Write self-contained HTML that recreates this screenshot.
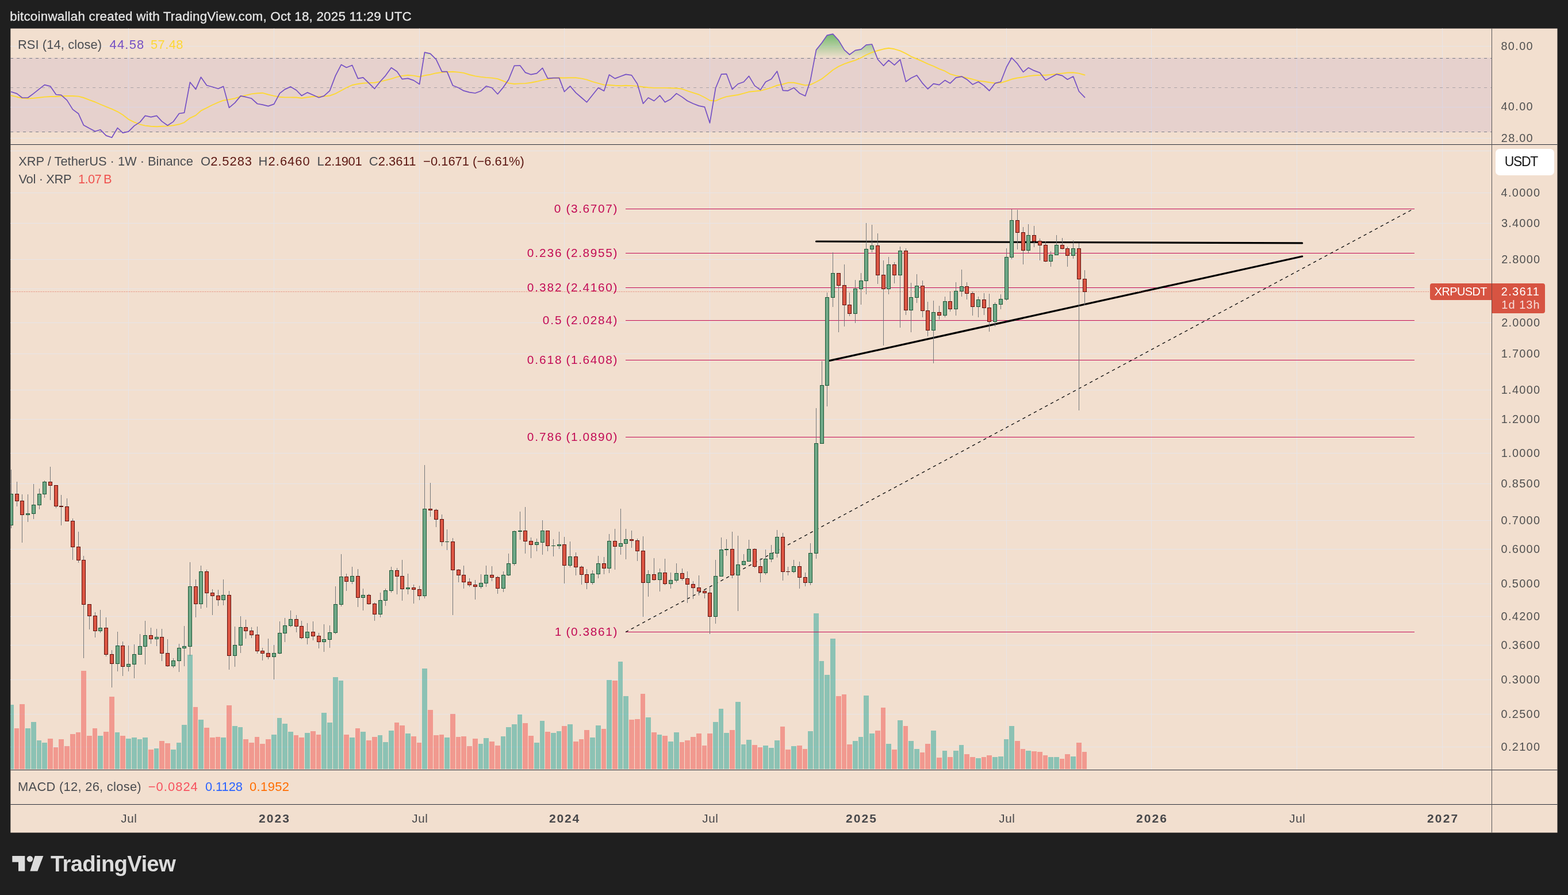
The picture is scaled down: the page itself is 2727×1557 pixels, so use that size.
<!DOCTYPE html>
<html lang="en"><head><meta charset="utf-8"><title>XRP / TetherUS 1W chart</title>
<style>
html,body{margin:0;padding:0;background:#1f1f1f;}
body{width:2727px;height:1557px;overflow:hidden;}
svg{display:block;font-family:"Liberation Sans", sans-serif;}
text{white-space:pre;}
</style></head><body>
<svg xmlns="http://www.w3.org/2000/svg" width="2727" height="1557" viewBox="0 0 2727 1557">
<rect x="0" y="0" width="2727" height="1557" fill="#1f1f1f"/>
<rect x="18.3" y="49.6" width="2690.2" height="1398.95" fill="#f2dfcf"/>
<defs><linearGradient id="ob" gradientUnits="userSpaceOnUse" x1="0" y1="46.5" x2="0" y2="101.5"><stop offset="0" stop-color="#4caf50" stop-opacity="1"/><stop offset="1" stop-color="#4caf50" stop-opacity="0"/></linearGradient><clipPath id="obclip"><rect x="18.3" y="49.6" width="2575.7" height="51.4"/></clipPath><clipPath id="plot"><rect x="18.3" y="49.6" width="2575.7" height="1289.4"/></clipPath></defs>
<path d="M223.5 49.6V1339M476.5 49.6V1339M729.5 49.6V1339M981.5 49.6V1339M1234.5 49.6V1339M1497.5 49.6V1339M1750.5 49.6V1339M2002.5 49.6V1339M2255.5 49.6V1339M2508.5 49.6V1339M18.3 80.5H2594M18.3 186.5H2594M18.3 240.5H2594M18.3 262.5H2594M18.3 335.5H2594M18.3 388.5H2594M18.3 451.5H2594M18.3 502.5H2594M18.3 561.5H2594M18.3 615.5H2594M18.3 678.5H2594M18.3 729.5H2594M18.3 788.5H2594M18.3 841.5H2594M18.3 905.5H2594M18.3 955.5H2594M18.3 1015.5H2594M18.3 1072.5H2594M18.3 1122.5H2594M18.3 1182.5H2594M18.3 1242.5H2594M18.3 1299.5H2594" stroke="#e7e5e8" stroke-width="1" fill="none"/>
<rect x="18.3" y="100.6" width="2575.7" height="129.2" fill="#7e57c2" fill-opacity="0.1"/>
<path d="M18.3 101.5H2594M18.3 229.5H2594" stroke="#787b86" stroke-width="1" stroke-dasharray="5 6" stroke-dashoffset="0.2" fill="none"/>
<path d="M18.3 152.5H2594" stroke="#787b86" stroke-opacity="0.55" stroke-width="1" stroke-dasharray="5 6" stroke-dashoffset="0.2" fill="none"/>
<polygon points="19.5,101.5 19.5,159.8 29.5,162.9 38.5,170 48.5,170 58.5,162.6 68.5,154.6 77.5,147.6 87.5,150.1 97.5,164.5 106.5,165.3 116.5,174.4 126.5,190.4 136.5,197.8 145.5,217.8 155.5,223.3 165.5,228.5 174.5,225.7 184.5,235.9 194.5,239.3 204.5,222.5 213.5,231.2 223.5,228.8 233.5,218.9 243.5,212.4 252.5,201.4 262.5,203.7 272.5,201.4 281.5,211.1 291.5,218.2 301.5,211.6 311.5,197.5 320.5,196.2 330.5,143 340.5,155.4 349.5,134.2 359.5,148.5 369.5,151.2 379.5,154.3 388.5,150.4 398.5,187.3 408.5,178.9 418.5,166.9 427.5,168.7 437.5,171.3 447.5,180.5 456.5,182.1 466.5,184.6 476.5,181.1 486.5,162.3 495.5,155.4 505.5,150.9 515.5,157 524.5,166.4 534.5,160.9 544.5,165.3 554.5,169.7 563.5,166.9 573.5,157.9 583.5,131.6 593.5,112.4 602.5,117.5 612.5,113.5 622.5,136.7 631.5,134.9 641.5,144.7 651.5,154.3 661.5,141.5 670.5,131.6 680.5,117.8 690.5,124.5 699.5,137.7 709.5,136.4 719.5,139.9 729.5,146.5 738.5,91.1 748.5,93.3 758.5,103.3 768.5,124.7 777.5,124.7 787.5,148.8 797.5,152.7 806.5,157.9 816.5,160.6 826.5,162 836.5,158.2 845.5,149.9 855.5,152.7 865.5,163.7 875.5,151.6 884.5,138.6 894.5,114.3 904.5,114 913.5,126.1 923.5,129.7 933.5,127.6 943.5,118.4 952.5,136.3 962.5,135.6 972.5,135.6 981.5,159.5 991.5,149.8 1001.5,161.4 1011.5,170 1020.5,177.8 1030.5,165.3 1040.5,152.7 1050.5,158.2 1059.5,130 1069.5,136.6 1079.5,132.8 1088.5,129.4 1098.5,130.9 1108.5,146 1118.5,180.2 1127.5,170 1137.5,175.5 1147.5,166.1 1156.5,177.8 1166.5,172.4 1176.5,162.6 1186.5,168.9 1195.5,175.5 1205.5,180.2 1215.5,184.1 1225.5,186.2 1234.5,213.9 1244.5,153.5 1254.5,129.2 1263.5,128.7 1273.5,155.4 1283.5,146 1293.5,142.5 1302.5,132.4 1312.5,149.1 1322.5,156.4 1331.5,142.5 1341.5,137.5 1351.5,124 1361.5,157.3 1370.5,157.8 1380.5,152.7 1390.5,162.2 1400.5,166.9 1409.5,139.4 1419.5,86.9 1429.5,74.3 1438.5,61.3 1448.5,59.1 1458.5,70.1 1468.5,86.9 1477.5,95 1487.5,87.6 1497.5,85.8 1506.5,78.2 1516.5,77 1526.5,103.3 1536.5,114.3 1545.5,104.9 1555.5,113.2 1565.5,103.6 1575.5,142.1 1584.5,135.8 1594.5,130.9 1604.5,144.9 1613.5,154.8 1623.5,145.7 1633.5,147.6 1643.5,139.7 1652.5,144.9 1662.5,135.2 1672.5,133.1 1681.5,138.2 1691.5,146.9 1701.5,142.2 1711.5,149.1 1720.5,157.9 1730.5,144.9 1740.5,142.2 1750.5,116.7 1759.5,100.5 1769.5,110.9 1779.5,125.3 1788.5,117.8 1798.5,122.9 1808.5,126.5 1818.5,139.4 1827.5,134.7 1837.5,129.2 1847.5,131.6 1856.5,138.2 1866.5,133.1 1876.5,159 1886.5,169.3 1886.5,101.5" fill="url(#ob)" clip-path="url(#obclip)"/>
<g clip-path="url(#plot)" fill="none" stroke-linejoin="round" stroke-linecap="round"><polyline points="19.5,166.1 29.5,168.7 38.5,170.8 48.5,171.6 58.5,170.8 68.5,169.7 77.5,168.6 87.5,168 97.5,168 106.5,167.3 116.5,167 126.5,167 136.5,167.6 145.5,170 155.5,173.9 165.5,177.5 174.5,181.5 184.5,185.7 194.5,189.6 204.5,194.3 213.5,199.8 223.5,207.6 233.5,212.7 243.5,216.3 252.5,218.6 262.5,219.7 272.5,220.2 281.5,219.7 291.5,219.4 301.5,218.2 311.5,216.3 320.5,213.1 330.5,205.3 340.5,200.6 349.5,192.7 359.5,187.7 369.5,182.5 379.5,178.2 388.5,174.7 398.5,173.1 408.5,171.2 418.5,168 427.5,165.8 437.5,163.4 447.5,162.3 456.5,161.7 466.5,164.5 476.5,166.9 486.5,168.7 495.5,169.4 505.5,169.4 515.5,169.5 524.5,170.8 534.5,169.2 544.5,168 554.5,167.6 563.5,167.6 573.5,166.5 583.5,162.9 593.5,157.5 602.5,152.7 612.5,148 622.5,146 631.5,144.7 641.5,144.1 651.5,143.8 661.5,141.9 670.5,139.7 680.5,137.1 690.5,133.9 699.5,131.9 709.5,130.8 719.5,131.6 729.5,133.5 738.5,131.3 748.5,129.7 758.5,127.2 768.5,125.9 777.5,125.1 787.5,124.8 797.5,125.6 806.5,126.9 816.5,130 826.5,132.4 836.5,133.9 845.5,134.9 855.5,135.6 865.5,137.1 875.5,141 884.5,144.6 894.5,146 904.5,145.4 913.5,145.1 923.5,143.8 933.5,141.8 943.5,139.4 952.5,137.8 962.5,136 972.5,135.2 981.5,135.5 991.5,135.2 1001.5,135.2 1011.5,136.6 1020.5,138.6 1030.5,142.2 1040.5,144.9 1050.5,147.6 1059.5,148 1069.5,148.8 1079.5,149.3 1088.5,148.8 1098.5,149.1 1108.5,149.9 1118.5,151.3 1127.5,152.3 1137.5,152.9 1147.5,152.9 1156.5,152.9 1166.5,153.2 1176.5,153.5 1186.5,154.8 1195.5,158.2 1205.5,161.4 1215.5,164.5 1225.5,169.5 1234.5,174.7 1244.5,175.5 1254.5,171.1 1263.5,168.1 1273.5,166.5 1283.5,165 1293.5,162.3 1302.5,159.8 1312.5,158.7 1322.5,157.8 1331.5,155.4 1341.5,152.3 1351.5,148.5 1361.5,146.5 1370.5,143.8 1380.5,143.8 1390.5,146 1400.5,148.4 1409.5,147.3 1419.5,142.5 1429.5,137.1 1438.5,130 1448.5,121.8 1458.5,115.6 1468.5,111.2 1477.5,108 1487.5,104.9 1497.5,100.5 1506.5,95.5 1516.5,91.1 1526.5,88 1536.5,85.3 1545.5,83.7 1555.5,85.3 1565.5,88.3 1575.5,93.1 1584.5,98.3 1594.5,102.5 1604.5,106.8 1613.5,111.2 1623.5,115.1 1633.5,119.8 1643.5,123.7 1652.5,128.9 1662.5,131.6 1672.5,133.1 1681.5,135.5 1691.5,137.8 1701.5,140.7 1711.5,141.8 1720.5,143.3 1730.5,144.6 1740.5,144.1 1750.5,141 1759.5,137.8 1769.5,135.5 1779.5,134.2 1788.5,132.4 1798.5,131.3 1808.5,130.8 1818.5,130.8 1827.5,130 1837.5,128.7 1847.5,127.6 1856.5,126.5 1866.5,126.2 1876.5,127.6 1886.5,130.5" stroke="#fdd835" stroke-width="1.9"/><polyline points="19.5,159.8 29.5,162.9 38.5,170 48.5,170 58.5,162.6 68.5,154.6 77.5,147.6 87.5,150.1 97.5,164.5 106.5,165.3 116.5,174.4 126.5,190.4 136.5,197.8 145.5,217.8 155.5,223.3 165.5,228.5 174.5,225.7 184.5,235.9 194.5,239.3 204.5,222.5 213.5,231.2 223.5,228.8 233.5,218.9 243.5,212.4 252.5,201.4 262.5,203.7 272.5,201.4 281.5,211.1 291.5,218.2 301.5,211.6 311.5,197.5 320.5,196.2 330.5,143 340.5,155.4 349.5,134.2 359.5,148.5 369.5,151.2 379.5,154.3 388.5,150.4 398.5,187.3 408.5,178.9 418.5,166.9 427.5,168.7 437.5,171.3 447.5,180.5 456.5,182.1 466.5,184.6 476.5,181.1 486.5,162.3 495.5,155.4 505.5,150.9 515.5,157 524.5,166.4 534.5,160.9 544.5,165.3 554.5,169.7 563.5,166.9 573.5,157.9 583.5,131.6 593.5,112.4 602.5,117.5 612.5,113.5 622.5,136.7 631.5,134.9 641.5,144.7 651.5,154.3 661.5,141.5 670.5,131.6 680.5,117.8 690.5,124.5 699.5,137.7 709.5,136.4 719.5,139.9 729.5,146.5 738.5,91.1 748.5,93.3 758.5,103.3 768.5,124.7 777.5,124.7 787.5,148.8 797.5,152.7 806.5,157.9 816.5,160.6 826.5,162 836.5,158.2 845.5,149.9 855.5,152.7 865.5,163.7 875.5,151.6 884.5,138.6 894.5,114.3 904.5,114 913.5,126.1 923.5,129.7 933.5,127.6 943.5,118.4 952.5,136.3 962.5,135.6 972.5,135.6 981.5,159.5 991.5,149.8 1001.5,161.4 1011.5,170 1020.5,177.8 1030.5,165.3 1040.5,152.7 1050.5,158.2 1059.5,130 1069.5,136.6 1079.5,132.8 1088.5,129.4 1098.5,130.9 1108.5,146 1118.5,180.2 1127.5,170 1137.5,175.5 1147.5,166.1 1156.5,177.8 1166.5,172.4 1176.5,162.6 1186.5,168.9 1195.5,175.5 1205.5,180.2 1215.5,184.1 1225.5,186.2 1234.5,213.9 1244.5,153.5 1254.5,129.2 1263.5,128.7 1273.5,155.4 1283.5,146 1293.5,142.5 1302.5,132.4 1312.5,149.1 1322.5,156.4 1331.5,142.5 1341.5,137.5 1351.5,124 1361.5,157.3 1370.5,157.8 1380.5,152.7 1390.5,162.2 1400.5,166.9 1409.5,139.4 1419.5,86.9 1429.5,74.3 1438.5,61.3 1448.5,59.1 1458.5,70.1 1468.5,86.9 1477.5,95 1487.5,87.6 1497.5,85.8 1506.5,78.2 1516.5,77 1526.5,103.3 1536.5,114.3 1545.5,104.9 1555.5,113.2 1565.5,103.6 1575.5,142.1 1584.5,135.8 1594.5,130.9 1604.5,144.9 1613.5,154.8 1623.5,145.7 1633.5,147.6 1643.5,139.7 1652.5,144.9 1662.5,135.2 1672.5,133.1 1681.5,138.2 1691.5,146.9 1701.5,142.2 1711.5,149.1 1720.5,157.9 1730.5,144.9 1740.5,142.2 1750.5,116.7 1759.5,100.5 1769.5,110.9 1779.5,125.3 1788.5,117.8 1798.5,122.9 1808.5,126.5 1818.5,139.4 1827.5,134.7 1837.5,129.2 1847.5,131.6 1856.5,138.2 1866.5,133.1 1876.5,159 1886.5,169.3" stroke="#7450c4" stroke-width="1.7"/></g>
<path d="M18.3 1226H24V1338H18.3ZM44 1267H53V1338H44ZM54 1256H63V1338H54ZM64 1288H72V1338H64ZM73 1292H82V1338H73ZM170 1280H179V1338H170ZM200 1274H208V1338H200ZM219 1285H228V1338H219ZM229 1283H238V1338H229ZM239 1286H247V1338H239ZM248 1283H257V1338H248ZM268 1302H276V1338H268ZM297 1304H306V1338H297ZM307 1292H315V1338H307ZM316 1261H325V1338H316ZM326 1139H335V1338H326ZM345 1252H354V1338H345ZM384 1283H393V1338H384ZM404 1263H413V1338H404ZM414 1265H422V1338H414ZM472 1278H481V1338H472ZM482 1249H490V1338H482ZM491 1259H500V1338H491ZM501 1273H510V1338H501ZM530 1275H539V1338H530ZM559 1240H568V1338H559ZM569 1257H578V1338H569ZM579 1178H588V1338H579ZM589 1184H597V1338H589ZM608 1283H617V1338H608ZM627 1273H636V1338H627ZM657 1279H665V1338H657ZM666 1291H675V1338H666ZM676 1271H685V1338H676ZM705 1276H714V1338H705ZM734 1163H743V1338H734ZM773 1283H782V1338H773ZM832 1294H840V1338H832ZM841 1284H850V1338H841ZM871 1281H879V1338H871ZM880 1265H889V1338H880ZM890 1260H899V1338H890ZM900 1243H908V1338H900ZM929 1292H938V1338H929ZM939 1254H947V1338H939ZM958 1275H967V1338H958ZM968 1272H976V1338H968ZM987 1260H996V1338H987ZM1026 1283H1035V1338H1026ZM1036 1262H1045V1338H1036ZM1055 1183H1064V1338H1055ZM1075 1151H1083V1338H1075ZM1084 1211H1093V1338H1084ZM1123 1248H1132V1338H1123ZM1143 1278H1151V1338H1143ZM1162 1290H1171V1338H1162ZM1172 1274H1181V1338H1172ZM1240 1256H1249V1338H1240ZM1250 1233H1258V1338H1250ZM1259 1275H1268V1338H1259ZM1279 1221H1288V1338H1279ZM1289 1295H1297V1338H1289ZM1298 1287H1307V1338H1298ZM1327 1297H1336V1338H1327ZM1337 1301H1346V1338H1337ZM1347 1288H1356V1338H1347ZM1376 1298H1385V1338H1376ZM1405 1272H1414V1338H1405ZM1415 1067H1424V1338H1415ZM1425 1150H1433V1338H1425ZM1434 1174H1443V1338H1434ZM1444 1111H1453V1338H1444ZM1483 1289H1492V1338H1483ZM1493 1282H1501V1338H1493ZM1502 1210H1511V1338H1502ZM1512 1276H1521V1338H1512ZM1541 1294H1550V1338H1541ZM1561 1253H1570V1338H1561ZM1580 1289H1589V1338H1580ZM1590 1303H1599V1338H1590ZM1619 1271H1628V1338H1619ZM1639 1306H1647V1338H1639ZM1658 1306H1667V1338H1658ZM1668 1296H1676V1338H1668ZM1697 1319H1706V1338H1697ZM1726 1317H1735V1338H1726ZM1736 1316H1745V1338H1736ZM1746 1286H1754V1338H1746ZM1755 1263H1764V1338H1755ZM1784 1306H1793V1338H1784ZM1823 1317H1832V1338H1823ZM1833 1317H1842V1338H1833ZM1862 1316H1871V1338H1862Z" fill="#26a69a" fill-opacity="0.5"/>
<path d="M25 1267H33V1338H25ZM34 1225H43V1338H34ZM83 1285H92V1338H83ZM93 1300H101V1338H93ZM102 1286H111V1338H102ZM112 1298H121V1338H112ZM122 1277H131V1338H122ZM132 1274H140V1338H132ZM141 1167H150V1338H141ZM151 1280H160V1338H151ZM161 1267H169V1338H161ZM180 1273H189V1338H180ZM190 1212H199V1338H190ZM209 1280H218V1338H209ZM258 1304H267V1338H258ZM277 1289H286V1338H277ZM287 1293H296V1338H287ZM336 1230H344V1338H336ZM355 1266H364V1338H355ZM365 1283H374V1338H365ZM375 1282H383V1338H375ZM394 1227H403V1338H394ZM423 1286H432V1338H423ZM433 1292H442V1338H433ZM443 1282H451V1338H443ZM452 1294H461V1338H452ZM462 1286H471V1338H462ZM511 1279H519V1338H511ZM520 1283H529V1338H520ZM540 1272H549V1338H540ZM550 1278H558V1338H550ZM598 1278H607V1338H598ZM618 1267H626V1338H618ZM637 1288H646V1338H637ZM647 1282H656V1338H647ZM686 1257H694V1338H686ZM695 1262H704V1338H695ZM715 1281H724V1338H715ZM725 1292H733V1338H725ZM744 1235H753V1338H744ZM754 1279H763V1338H754ZM764 1278H772V1338H764ZM783 1242H792V1338H783ZM793 1282H801V1338H793ZM802 1281H811V1338H802ZM812 1298H821V1338H812ZM822 1285H831V1338H822ZM851 1290H860V1338H851ZM861 1297H870V1338H861ZM909 1258H918V1338H909ZM919 1280H928V1338H919ZM948 1273H957V1338H948ZM977 1263H986V1338H977ZM997 1290H1006V1338H997ZM1007 1286H1015V1338H1007ZM1016 1270H1025V1338H1016ZM1046 1268H1054V1338H1046ZM1065 1184H1074V1338H1065ZM1094 1252H1103V1338H1094ZM1104 1251H1113V1338H1104ZM1114 1207H1122V1338H1114ZM1133 1274H1142V1338H1133ZM1152 1280H1161V1338H1152ZM1182 1291H1190V1338H1182ZM1191 1288H1200V1338H1191ZM1201 1282H1210V1338H1201ZM1211 1276H1220V1338H1211ZM1221 1297H1229V1338H1221ZM1230 1276H1239V1338H1230ZM1269 1270H1278V1338H1269ZM1308 1296H1317V1338H1308ZM1318 1300H1326V1338H1318ZM1357 1264H1365V1338H1357ZM1366 1304H1375V1338H1366ZM1386 1297H1395V1338H1386ZM1396 1303H1404V1338H1396ZM1454 1211H1463V1338H1454ZM1464 1208H1472V1338H1464ZM1473 1295H1482V1338H1473ZM1522 1271H1531V1338H1522ZM1532 1231H1540V1338H1532ZM1551 1304H1560V1338H1551ZM1571 1263H1579V1338H1571ZM1600 1309H1608V1338H1600ZM1609 1294H1618V1338H1609ZM1629 1318H1638V1338H1629ZM1648 1317H1657V1338H1648ZM1677 1312H1686V1338H1677ZM1687 1317H1696V1338H1687ZM1707 1317H1715V1338H1707ZM1716 1314H1725V1338H1716ZM1765 1289H1774V1338H1765ZM1775 1303H1783V1338H1775ZM1794 1307H1803V1338H1794ZM1804 1308H1813V1338H1804ZM1814 1314H1822V1338H1814ZM1843 1320H1851V1338H1843ZM1852 1312H1861V1338H1852ZM1872 1292H1881V1338H1872ZM1882 1308H1890V1338H1882Z" fill="#ef5350" fill-opacity="0.5"/>
<path d="M1088 363.5H2460M1088 440.5H2460M1088 500.5H2460M1088 557.5H2460M1088 626.5H2460M1088 760.5H2460M1088 1099.5H2460" stroke="#c20a55" stroke-width="1" fill="none"/>
<path d="M1088 1099.6L2459.3 362.8" stroke="#141414" stroke-width="1.4" stroke-dasharray="5.4 5.64" fill="none"/>
<path d="M1419.5 420L2264.7 422.9M1443 627.4L2264.7 446" stroke="#000" stroke-width="3.2" stroke-linecap="round" fill="none"/>
<path d="M18 507.5H2487" stroke="#dc5544" stroke-width="1" stroke-dasharray="1 2" fill="none"/>
<g clip-path="url(#plot)"><path d="M19 817h1V919h-1ZM29 838h1V881h-1ZM38 860h1V944h-1ZM48 860h1V908h-1ZM58 842h1V903h-1ZM68 850h1V886h-1ZM77 836h1V866h-1ZM87 812h1V870h-1ZM97 844h1V884h-1ZM106 861h1V914h-1ZM116 867h1V907h-1ZM126 902h1V974h-1ZM136 925h1V979h-1ZM145 967h1V1145h-1ZM155 1051h1V1095h-1ZM165 1065h1V1109h-1ZM174 1061h1V1101h-1ZM184 1074h1V1142h-1ZM194 1131h1V1196h-1ZM204 1099h1V1168h-1ZM213 1116h1V1176h-1ZM223 1123h1V1168h-1ZM233 1121h1V1180h-1ZM243 1103h1V1139h-1ZM252 1080h1V1156h-1ZM262 1092h1V1120h-1ZM272 1094h1V1124h-1ZM281 1094h1V1150h-1ZM291 1112h1V1160h-1ZM301 1145h1V1162h-1ZM311 1120h1V1169h-1ZM320 1089h1V1159h-1ZM330 978h1V1141h-1ZM340 1008h1V1074h-1ZM349 984h1V1059h-1ZM359 991h1V1057h-1ZM369 1025h1V1070h-1ZM379 1026h1V1054h-1ZM388 1008h1V1053h-1ZM398 1028h1V1165h-1ZM408 1090h1V1160h-1ZM418 1072h1V1136h-1ZM427 1078h1V1111h-1ZM437 1091h1V1110h-1ZM447 1090h1V1137h-1ZM456 1127h1V1149h-1ZM466 1111h1V1147h-1ZM476 1122h1V1182h-1ZM486 1081h1V1138h-1ZM495 1075h1V1117h-1ZM505 1062h1V1091h-1ZM515 1070h1V1100h-1ZM524 1080h1V1112h-1ZM534 1084h1V1121h-1ZM544 1081h1V1114h-1ZM554 1101h1V1128h-1ZM563 1086h1V1134h-1ZM573 1088h1V1127h-1ZM583 1020h1V1103h-1ZM593 964h1V1055h-1ZM602 998h1V1028h-1ZM612 986h1V1016h-1ZM622 990h1V1056h-1ZM631 1024h1V1062h-1ZM641 1033h1V1052h-1ZM651 1048h1V1080h-1ZM661 1031h1V1074h-1ZM670 1024h1V1054h-1ZM680 986h1V1031h-1ZM690 988h1V1034h-1ZM699 974h1V1045h-1ZM709 998h1V1034h-1ZM719 1017h1V1050h-1ZM729 1019h1V1044h-1ZM738 809h1V1041h-1ZM748 840h1V899h-1ZM758 885h1V917h-1ZM768 895h1V950h-1ZM777 921h1V957h-1ZM787 936h1V1070h-1ZM797 990h1V1013h-1ZM806 984h1V1024h-1ZM816 1006h1V1021h-1ZM826 1009h1V1043h-1ZM836 999h1V1024h-1ZM845 984h1V1021h-1ZM855 985h1V1011h-1ZM865 1002h1V1033h-1ZM875 994h1V1030h-1ZM884 963h1V1002h-1ZM894 923h1V984h-1ZM904 890h1V939h-1ZM913 882h1V963h-1ZM923 935h1V971h-1ZM933 937h1V959h-1ZM943 905h1V965h-1ZM952 923h1V959h-1ZM962 938h1V968h-1ZM972 925h1V955h-1ZM981 934h1V1015h-1ZM991 942h1V987h-1ZM1001 961h1V1001h-1ZM1011 984h1V1017h-1ZM1020 990h1V1025h-1ZM1030 992h1V1017h-1ZM1040 967h1V1006h-1ZM1050 969h1V999h-1ZM1059 929h1V997h-1ZM1069 920h1V991h-1ZM1079 885h1V965h-1ZM1088 920h1V973h-1ZM1098 923h1V953h-1ZM1108 937h1V976h-1ZM1118 933h1V1073h-1ZM1127 992h1V1038h-1ZM1137 971h1V1010h-1ZM1147 989h1V1029h-1ZM1156 972h1V1018h-1ZM1166 996h1V1024h-1ZM1176 980h1V1013h-1ZM1186 989h1V1010h-1ZM1195 994h1V1049h-1ZM1205 1011h1V1042h-1ZM1215 1001h1V1036h-1ZM1225 1026h1V1041h-1ZM1234 1021h1V1103h-1ZM1244 974h1V1085h-1ZM1254 935h1V1003h-1ZM1263 938h1V967h-1ZM1273 925h1V1006h-1ZM1283 932h1V1063h-1ZM1293 964h1V984h-1ZM1302 939h1V977h-1ZM1312 954h1V988h-1ZM1322 971h1V1013h-1ZM1331 956h1V1000h-1ZM1341 948h1V978h-1ZM1351 922h1V970h-1ZM1361 927h1V1010h-1ZM1370 986h1V1001h-1ZM1380 974h1V997h-1ZM1390 977h1V1024h-1ZM1400 996h1V1020h-1ZM1409 945h1V1018h-1ZM1419 710h1V972h-1ZM1429 628h1V772h-1ZM1438 509h1V707h-1ZM1448 439h1V534h-1ZM1458 475h1V578h-1ZM1468 460h1V568h-1ZM1477 509h1V550h-1ZM1487 487h1V562h-1ZM1497 475h1V530h-1ZM1506 388h1V512h-1ZM1516 391h1V439h-1ZM1526 406h1V494h-1ZM1536 453h1V601h-1ZM1545 447h1V512h-1ZM1555 456h1V493h-1ZM1565 429h1V570h-1ZM1575 432h1V548h-1ZM1584 492h1V578h-1ZM1594 477h1V527h-1ZM1604 488h1V552h-1ZM1613 525h1V585h-1ZM1623 523h1V632h-1ZM1633 532h1V556h-1ZM1643 516h1V552h-1ZM1652 507h1V542h-1ZM1662 491h1V549h-1ZM1672 469h1V516h-1ZM1681 491h1V521h-1ZM1691 507h1V549h-1ZM1701 516h1V552h-1ZM1711 510h1V548h-1ZM1720 511h1V577h-1ZM1730 526h1V568h-1ZM1740 512h1V538h-1ZM1750 432h1V523h-1ZM1759 364h1V451h-1ZM1769 365h1V434h-1ZM1779 395h1V460h-1ZM1788 390h1V440h-1ZM1798 393h1V430h-1ZM1808 415h1V453h-1ZM1818 420h1V456h-1ZM1827 437h1V464h-1ZM1837 409h1V444h-1ZM1847 414h1V434h-1ZM1856 429h1V464h-1ZM1866 418h1V450h-1ZM1876 423h1V714h-1ZM1886 470h1V531h-1Z" fill="#737678"/>
<path d="M16 859h7V914h-7ZM45 893h7V896h-7ZM55 878h7V894h-7ZM65 859h7V879h-7ZM74 838h7V860h-7ZM171 1092h7V1098h-7ZM201 1123h7V1155h-7ZM220 1155h7V1160h-7ZM230 1138h7V1156h-7ZM240 1124h7V1139h-7ZM249 1105h7V1125h-7ZM269 1108h7V1112h-7ZM298 1149h7V1159h-7ZM308 1127h7V1150h-7ZM317 1124h7V1128h-7ZM327 1020h7V1125h-7ZM346 994h7V1051h-7ZM385 1035h7V1044h-7ZM405 1122h7V1141h-7ZM415 1091h7V1123h-7ZM473 1136h7V1143h-7ZM483 1101h7V1137h-7ZM492 1088h7V1102h-7ZM502 1077h7V1089h-7ZM531 1099h7V1110h-7ZM560 1112h7V1117h-7ZM570 1100h7V1113h-7ZM580 1051h7V1101h-7ZM590 1003h7V1052h-7ZM609 1002h7V1012h-7ZM628 1035h7V1040h-7ZM658 1044h7V1069h-7ZM667 1027h7V1045h-7ZM677 992h7V1028h-7ZM706 1022h7V1025h-7ZM735 885h7V1037h-7ZM774 942h7V943h-7ZM833 1014h7V1021h-7ZM842 1000h7V1015h-7ZM872 1000h7V1024h-7ZM881 980h7V1001h-7ZM891 924h7V981h-7ZM901 923h7V925h-7ZM930 943h7V948h-7ZM940 923h7V944h-7ZM959 949h7V950h-7ZM969 947h7V950h-7ZM988 968h7V984h-7ZM1027 998h7V1014h-7ZM1037 980h7V999h-7ZM1056 941h7V989h-7ZM1076 945h7V951h-7ZM1085 938h7V946h-7ZM1124 999h7V1014h-7ZM1144 996h7V1009h-7ZM1163 1009h7V1016h-7ZM1173 997h7V1010h-7ZM1241 1002h7V1073h-7ZM1251 956h7V1003h-7ZM1260 955h7V957h-7ZM1280 982h7V1001h-7ZM1290 976h7V983h-7ZM1299 955h7V977h-7ZM1328 972h7V997h-7ZM1338 962h7V973h-7ZM1348 934h7V963h-7ZM1377 985h7V995h-7ZM1406 962h7V1014h-7ZM1416 771h7V963h-7ZM1426 670h7V772h-7ZM1435 517h7V671h-7ZM1445 475h7V518h-7ZM1484 502h7V546h-7ZM1494 488h7V503h-7ZM1503 433h7V489h-7ZM1513 427h7V434h-7ZM1542 460h7V503h-7ZM1562 436h7V479h-7ZM1581 517h7V540h-7ZM1591 497h7V518h-7ZM1620 543h7V575h-7ZM1640 524h7V549h-7ZM1659 506h7V538h-7ZM1669 498h7V507h-7ZM1698 521h7V534h-7ZM1727 529h7V560h-7ZM1737 520h7V530h-7ZM1747 447h7V521h-7ZM1756 383h7V448h-7ZM1785 409h7V436h-7ZM1824 443h7V455h-7ZM1834 426h7V444h-7ZM1863 432h7V445h-7Z" fill="#1b5635"/>
<path d="M17 860h5V913h-5ZM46 894h5V895h-5ZM56 879h5V893h-5ZM66 860h5V878h-5ZM75 839h5V859h-5ZM172 1093h5V1097h-5ZM202 1124h5V1154h-5ZM221 1156h5V1159h-5ZM231 1139h5V1155h-5ZM241 1125h5V1138h-5ZM250 1106h5V1124h-5ZM270 1109h5V1111h-5ZM299 1150h5V1158h-5ZM309 1128h5V1149h-5ZM318 1125h5V1127h-5ZM328 1021h5V1124h-5ZM347 995h5V1050h-5ZM386 1036h5V1043h-5ZM406 1123h5V1140h-5ZM416 1092h5V1122h-5ZM474 1137h5V1142h-5ZM484 1102h5V1136h-5ZM493 1089h5V1101h-5ZM503 1078h5V1088h-5ZM532 1100h5V1109h-5ZM561 1113h5V1116h-5ZM571 1101h5V1112h-5ZM581 1052h5V1100h-5ZM591 1004h5V1051h-5ZM610 1003h5V1011h-5ZM629 1036h5V1039h-5ZM659 1045h5V1068h-5ZM668 1028h5V1044h-5ZM678 993h5V1027h-5ZM707 1023h5V1024h-5ZM736 886h5V1036h-5ZM834 1015h5V1020h-5ZM843 1001h5V1014h-5ZM873 1001h5V1023h-5ZM882 981h5V1000h-5ZM892 925h5V980h-5ZM931 944h5V947h-5ZM941 924h5V943h-5ZM970 948h5V949h-5ZM989 969h5V983h-5ZM1028 999h5V1013h-5ZM1038 981h5V998h-5ZM1057 942h5V988h-5ZM1077 946h5V950h-5ZM1086 939h5V945h-5ZM1125 1000h5V1013h-5ZM1145 997h5V1008h-5ZM1164 1010h5V1015h-5ZM1174 998h5V1009h-5ZM1242 1003h5V1072h-5ZM1252 957h5V1002h-5ZM1281 983h5V1000h-5ZM1291 977h5V982h-5ZM1300 956h5V976h-5ZM1329 973h5V996h-5ZM1339 963h5V972h-5ZM1349 935h5V962h-5ZM1378 986h5V994h-5ZM1407 963h5V1013h-5ZM1417 772h5V962h-5ZM1427 671h5V771h-5ZM1436 518h5V670h-5ZM1446 476h5V517h-5ZM1485 503h5V545h-5ZM1495 489h5V502h-5ZM1504 434h5V488h-5ZM1514 428h5V433h-5ZM1543 461h5V502h-5ZM1563 437h5V478h-5ZM1582 518h5V539h-5ZM1592 498h5V517h-5ZM1621 544h5V574h-5ZM1641 525h5V548h-5ZM1660 507h5V537h-5ZM1670 499h5V506h-5ZM1699 522h5V533h-5ZM1728 530h5V559h-5ZM1738 521h5V529h-5ZM1748 448h5V520h-5ZM1757 384h5V447h-5ZM1786 410h5V435h-5ZM1825 444h5V454h-5ZM1835 427h5V443h-5ZM1864 433h5V444h-5Z" fill="#6ea887"/>
<path d="M26 859h7V872h-7ZM35 871h7V896h-7ZM84 838h7V845h-7ZM94 844h7V881h-7ZM103 880h7V882h-7ZM113 881h7V907h-7ZM123 906h7V952h-7ZM133 951h7V975h-7ZM142 974h7V1052h-7ZM152 1051h7V1072h-7ZM162 1071h7V1098h-7ZM181 1092h7V1139h-7ZM191 1138h7V1155h-7ZM210 1123h7V1160h-7ZM259 1105h7V1112h-7ZM278 1108h7V1137h-7ZM288 1136h7V1159h-7ZM337 1020h7V1051h-7ZM356 994h7V1032h-7ZM366 1031h7V1037h-7ZM376 1036h7V1044h-7ZM395 1035h7V1141h-7ZM424 1091h7V1098h-7ZM434 1097h7V1105h-7ZM444 1104h7V1133h-7ZM453 1132h7V1137h-7ZM463 1136h7V1143h-7ZM512 1077h7V1090h-7ZM521 1089h7V1110h-7ZM541 1099h7V1107h-7ZM551 1106h7V1117h-7ZM599 1003h7V1012h-7ZM619 1002h7V1040h-7ZM638 1035h7V1051h-7ZM648 1050h7V1069h-7ZM687 992h7V1003h-7ZM696 1002h7V1025h-7ZM716 1022h7V1026h-7ZM726 1025h7V1037h-7ZM745 885h7V888h-7ZM755 887h7V904h-7ZM765 903h7V943h-7ZM784 942h7V992h-7ZM794 991h7V1001h-7ZM803 1000h7V1013h-7ZM813 1012h7V1018h-7ZM823 1017h7V1021h-7ZM852 1000h7V1005h-7ZM862 1004h7V1024h-7ZM910 923h7V942h-7ZM920 941h7V948h-7ZM949 923h7V950h-7ZM978 947h7V984h-7ZM998 968h7V987h-7ZM1008 986h7V1000h-7ZM1017 999h7V1014h-7ZM1047 980h7V989h-7ZM1066 941h7V951h-7ZM1095 938h7V941h-7ZM1105 940h7V959h-7ZM1115 958h7V1014h-7ZM1134 999h7V1009h-7ZM1153 996h7V1016h-7ZM1183 997h7V1007h-7ZM1192 1006h7V1017h-7ZM1202 1016h7V1023h-7ZM1212 1022h7V1029h-7ZM1222 1028h7V1032h-7ZM1231 1031h7V1073h-7ZM1270 955h7V1001h-7ZM1309 955h7V986h-7ZM1319 985h7V997h-7ZM1358 934h7V995h-7ZM1367 994h7V995h-7ZM1387 985h7V1005h-7ZM1397 1004h7V1014h-7ZM1455 475h7V497h-7ZM1465 496h7V531h-7ZM1474 530h7V546h-7ZM1523 427h7V479h-7ZM1533 478h7V503h-7ZM1552 460h7V479h-7ZM1572 436h7V540h-7ZM1601 497h7V541h-7ZM1610 540h7V575h-7ZM1630 543h7V549h-7ZM1649 524h7V538h-7ZM1678 498h7V511h-7ZM1688 510h7V534h-7ZM1708 521h7V536h-7ZM1717 535h7V560h-7ZM1766 383h7V405h-7ZM1776 404h7V436h-7ZM1795 409h7V420h-7ZM1805 419h7V427h-7ZM1815 426h7V455h-7ZM1844 426h7V433h-7ZM1853 432h7V445h-7ZM1873 432h7V486h-7ZM1883 485h7V508h-7Z" fill="#5c100c"/>
<path d="M27 860h5V871h-5ZM36 872h5V895h-5ZM85 839h5V844h-5ZM95 845h5V880h-5ZM114 882h5V906h-5ZM124 907h5V951h-5ZM134 952h5V974h-5ZM143 975h5V1051h-5ZM153 1052h5V1071h-5ZM163 1072h5V1097h-5ZM182 1093h5V1138h-5ZM192 1139h5V1154h-5ZM211 1124h5V1159h-5ZM260 1106h5V1111h-5ZM279 1109h5V1136h-5ZM289 1137h5V1158h-5ZM338 1021h5V1050h-5ZM357 995h5V1031h-5ZM367 1032h5V1036h-5ZM377 1037h5V1043h-5ZM396 1036h5V1140h-5ZM425 1092h5V1097h-5ZM435 1098h5V1104h-5ZM445 1105h5V1132h-5ZM454 1133h5V1136h-5ZM464 1137h5V1142h-5ZM513 1078h5V1089h-5ZM522 1090h5V1109h-5ZM542 1100h5V1106h-5ZM552 1107h5V1116h-5ZM600 1004h5V1011h-5ZM620 1003h5V1039h-5ZM639 1036h5V1050h-5ZM649 1051h5V1068h-5ZM688 993h5V1002h-5ZM697 1003h5V1024h-5ZM717 1023h5V1025h-5ZM727 1026h5V1036h-5ZM746 886h5V887h-5ZM756 888h5V903h-5ZM766 904h5V942h-5ZM785 943h5V991h-5ZM795 992h5V1000h-5ZM804 1001h5V1012h-5ZM814 1013h5V1017h-5ZM824 1018h5V1020h-5ZM853 1001h5V1004h-5ZM863 1005h5V1023h-5ZM911 924h5V941h-5ZM921 942h5V947h-5ZM950 924h5V949h-5ZM979 948h5V983h-5ZM999 969h5V986h-5ZM1009 987h5V999h-5ZM1018 1000h5V1013h-5ZM1048 981h5V988h-5ZM1067 942h5V950h-5ZM1096 939h5V940h-5ZM1106 941h5V958h-5ZM1116 959h5V1013h-5ZM1135 1000h5V1008h-5ZM1154 997h5V1015h-5ZM1184 998h5V1006h-5ZM1193 1007h5V1016h-5ZM1203 1017h5V1022h-5ZM1213 1023h5V1028h-5ZM1223 1029h5V1031h-5ZM1232 1032h5V1072h-5ZM1271 956h5V1000h-5ZM1310 956h5V985h-5ZM1320 986h5V996h-5ZM1359 935h5V994h-5ZM1388 986h5V1004h-5ZM1398 1005h5V1013h-5ZM1456 476h5V496h-5ZM1466 497h5V530h-5ZM1475 531h5V545h-5ZM1524 428h5V478h-5ZM1534 479h5V502h-5ZM1553 461h5V478h-5ZM1573 437h5V539h-5ZM1602 498h5V540h-5ZM1611 541h5V574h-5ZM1631 544h5V548h-5ZM1650 525h5V537h-5ZM1679 499h5V510h-5ZM1689 511h5V533h-5ZM1709 522h5V535h-5ZM1718 536h5V559h-5ZM1767 384h5V404h-5ZM1777 405h5V435h-5ZM1796 410h5V419h-5ZM1806 420h5V426h-5ZM1816 427h5V454h-5ZM1845 427h5V432h-5ZM1854 433h5V444h-5ZM1874 433h5V485h-5ZM1884 486h5V507h-5Z" fill="#db5543"/>
</g>
<path d="M18.3 251.5H2708.5M18.3 1339.5H2708.5M18.3 1399.5H2708.5" stroke="#2a2e39" stroke-width="1" fill="none"/>
<path d="M2594.5 49.6V1448.55" stroke="#555558" stroke-width="1" fill="none"/>
<rect x="2601" y="259" width="102" height="46" rx="7" fill="#ffffff"/>
<path d="M2491 493H2683a4 4 0 0 1 4 4V541a4 4 0 0 1 -4 4H2594V522H2491a4 4 0 0 1 -4 -4V497a4 4 0 0 1 4 -4Z" fill="#d75442"/>
<path d="M2594.5 493V545" stroke="#3a3a3c" stroke-width="1" stroke-opacity="0.6" fill="none"/>
<path d="M21.3 1489.1H43.3V1515.6H32V1499.7H21.3Z" fill="#dcdcdc"/>
<circle cx="52" cy="1494.2" r="5.3" fill="#dcdcdc"/>
<path d="M60.6 1489.1H75.4L65.3 1515.6H52.3Z" fill="#dcdcdc"/>
<text x="963.85" y="369.9" font-size="20.8" fill="#c20a55">0</text>
<text x="984.42" y="369.9" font-size="20.8" fill="#c20a55" letter-spacing="1.640">(3.6707)</text>
<text x="916.65" y="446.9" font-size="20.8" fill="#c20a55" letter-spacing="1.986">0.236</text>
<text x="984.42" y="446.9" font-size="20.8" fill="#c20a55" letter-spacing="1.640">(2.8955)</text>
<text x="916.65" y="506.9" font-size="20.8" fill="#c20a55" letter-spacing="1.986">0.382</text>
<text x="984.42" y="506.9" font-size="20.8" fill="#c20a55" letter-spacing="1.640">(2.4160)</text>
<text x="943.65" y="563.9" font-size="20.8" fill="#c20a55" letter-spacing="2.039">0.5</text>
<text x="984.42" y="563.9" font-size="20.8" fill="#c20a55" letter-spacing="1.640">(2.0284)</text>
<text x="916.65" y="632.9" font-size="20.8" fill="#c20a55" letter-spacing="1.986">0.618</text>
<text x="984.42" y="632.9" font-size="20.8" fill="#c20a55" letter-spacing="1.640">(1.6408)</text>
<text x="916.65" y="766.9" font-size="20.8" fill="#c20a55" letter-spacing="1.986">0.786</text>
<text x="984.42" y="766.9" font-size="20.8" fill="#c20a55" letter-spacing="1.640">(1.0890)</text>
<text x="964.7" y="1105.9" font-size="20.8" fill="#c20a55">1</text>
<text x="984.42" y="1105.9" font-size="20.8" fill="#c20a55" letter-spacing="1.640">(0.3861)</text>
<text x="2610.38" y="87.2" font-size="19.9" fill="#505050" letter-spacing="1.380">80.00</text>
<text x="2610.39" y="192" font-size="19.9" fill="#505050" letter-spacing="1.377">40.00</text>
<text x="2610.87" y="247.4" font-size="19.9" fill="#505050" letter-spacing="1.257">28.00</text>
<text x="2610.59" y="342.3" font-size="19.9" fill="#505050" letter-spacing="1.328">4.0000</text>
<text x="2610.88" y="395.3" font-size="19.9" fill="#505050" letter-spacing="1.270">3.4000</text>
<text x="2611.27" y="458.3" font-size="19.9" fill="#505050" letter-spacing="1.192">2.8000</text>
<text x="2611.27" y="568.3" font-size="19.9" fill="#505050" letter-spacing="1.192">2.0000</text>
<text x="2610.76" y="622.3" font-size="19.9" fill="#505050" letter-spacing="1.295">1.7000</text>
<text x="2610.76" y="685.3" font-size="19.9" fill="#505050" letter-spacing="1.295">1.4000</text>
<text x="2610.76" y="736.3" font-size="19.9" fill="#505050" letter-spacing="1.295">1.2000</text>
<text x="2610.76" y="795.3" font-size="19.9" fill="#505050" letter-spacing="1.295">1.0000</text>
<text x="2610.58" y="848.3" font-size="19.9" fill="#505050" letter-spacing="1.330">0.8500</text>
<text x="2610.58" y="912.3" font-size="19.9" fill="#505050" letter-spacing="1.330">0.7000</text>
<text x="2610.58" y="962.3" font-size="19.9" fill="#505050" letter-spacing="1.330">0.6000</text>
<text x="2610.58" y="1022.3" font-size="19.9" fill="#505050" letter-spacing="1.330">0.5000</text>
<text x="2610.58" y="1079.3" font-size="19.9" fill="#505050" letter-spacing="1.330">0.4200</text>
<text x="2610.58" y="1129.3" font-size="19.9" fill="#505050" letter-spacing="1.330">0.3600</text>
<text x="2610.58" y="1189.3" font-size="19.9" fill="#505050" letter-spacing="1.330">0.3000</text>
<text x="2610.58" y="1249.3" font-size="19.9" fill="#505050" letter-spacing="1.330">0.2500</text>
<text x="2610.58" y="1306.3" font-size="19.9" fill="#505050" letter-spacing="1.330">0.2100</text>
<text x="2616.66" y="289.3" font-size="23" fill="#131313" letter-spacing="-1.360">USDT</text>
<text x="2494.69" y="514.2" font-size="19.9" fill="#ffffff" letter-spacing="-0.540">XRPUSDT</text>
<text x="2610.87" y="514.2" font-size="19.9" fill="#ffffff" letter-spacing="1.310">2.3611</text>
<text x="2611.36" y="537" font-size="19.9" fill="#ffffff" fill-opacity="0.8" letter-spacing="1.059">1d 13h</text>
<text x="30.89" y="85.3" font-size="21.9" fill="#4a4c50" letter-spacing="0.101">RSI (14, close)</text>
<text x="190.46" y="85.3" font-size="21.9" fill="#7450c4" letter-spacing="1.257">44.58</text>
<text x="262.02" y="85.3" font-size="21.9" fill="#fdd835" letter-spacing="0.417">57.48</text>
<text x="32.26" y="287.5" font-size="21.9" fill="#4a4c50" letter-spacing="-0.031">XRP / TetherUS · 1W · Binance</text>
<text x="348.97" y="287.5" font-size="21.9" fill="#4a4c50">O</text>
<text x="366.17" y="287.5" font-size="21.9" fill="#5c1712" letter-spacing="0.966">2.5283</text>
<text x="449.49" y="287.5" font-size="21.9" fill="#4a4c50">H</text>
<text x="466.57" y="287.5" font-size="21.9" fill="#5c1712" letter-spacing="1.038">2.6460</text>
<text x="551.39" y="287.5" font-size="21.9" fill="#4a4c50">L</text>
<text x="564.27" y="287.5" font-size="21.9" fill="#5c1712" letter-spacing="-0.314">2.1901</text>
<text x="641.87" y="287.5" font-size="21.9" fill="#4a4c50">C</text>
<text x="657.67" y="287.5" font-size="21.9" fill="#5c1712" letter-spacing="0.071">2.3611</text>
<text x="736.07" y="287.5" font-size="21.9" fill="#5c1712" letter-spacing="0.029">−0.1671 (−6.61%)</text>
<text x="32.6" y="319.2" font-size="21.9" fill="#4a4c50" letter-spacing="-0.365">Vol · XRP</text>
<text x="135.93" y="319.2" font-size="21.9" fill="#ef5350" letter-spacing="-0.585">1.07 B</text>
<text x="30.99" y="1376.3" font-size="21.9" fill="#4a4c50" letter-spacing="0.285">MACD (12, 26, close)</text>
<text x="257.67" y="1376.3" font-size="21.9" fill="#f7525f" letter-spacing="1.067">−0.0824</text>
<text x="356.92" y="1376.3" font-size="21.9" fill="#2962ff" letter-spacing="-0.057">0.1128</text>
<text x="434.02" y="1376.3" font-size="21.9" fill="#ff6d00" letter-spacing="0.398">0.1952</text>
<text x="210.18" y="1430.8" font-size="20.6" fill="#47474a" letter-spacing="0.673">Jul</text>
<text x="449.89" y="1430.8" font-size="21.0" fill="#47474a" font-weight="bold" letter-spacing="2.121">2023</text>
<text x="716.18" y="1430.8" font-size="20.6" fill="#47474a" letter-spacing="0.673">Jul</text>
<text x="954.89" y="1430.8" font-size="21.0" fill="#47474a" font-weight="bold" letter-spacing="1.902">2024</text>
<text x="1221.18" y="1430.8" font-size="20.6" fill="#47474a" letter-spacing="0.673">Jul</text>
<text x="1470.89" y="1430.8" font-size="21.0" fill="#47474a" font-weight="bold" letter-spacing="2.121">2025</text>
<text x="1737.18" y="1430.8" font-size="20.6" fill="#47474a" letter-spacing="0.673">Jul</text>
<text x="1975.89" y="1430.8" font-size="21.0" fill="#47474a" font-weight="bold" letter-spacing="2.121">2026</text>
<text x="2242.18" y="1430.8" font-size="20.6" fill="#47474a" letter-spacing="0.673">Jul</text>
<text x="2481.89" y="1430.8" font-size="21.0" fill="#47474a" font-weight="bold" letter-spacing="2.230">2027</text>
<text x="17.2" y="36.3" font-size="22.4" fill="#e6e6e6" stroke="#e6e6e6" stroke-width="0.3" letter-spacing="0.210">bitcoinwallah created with TradingView.com, Oct 18, 2025 11:29 UTC</text>
<text x="88" y="1515.6" font-size="38.4" fill="#dcdcdc" font-weight="bold" letter-spacing="-0.762">TradingView</text>
</svg>
</body></html>
